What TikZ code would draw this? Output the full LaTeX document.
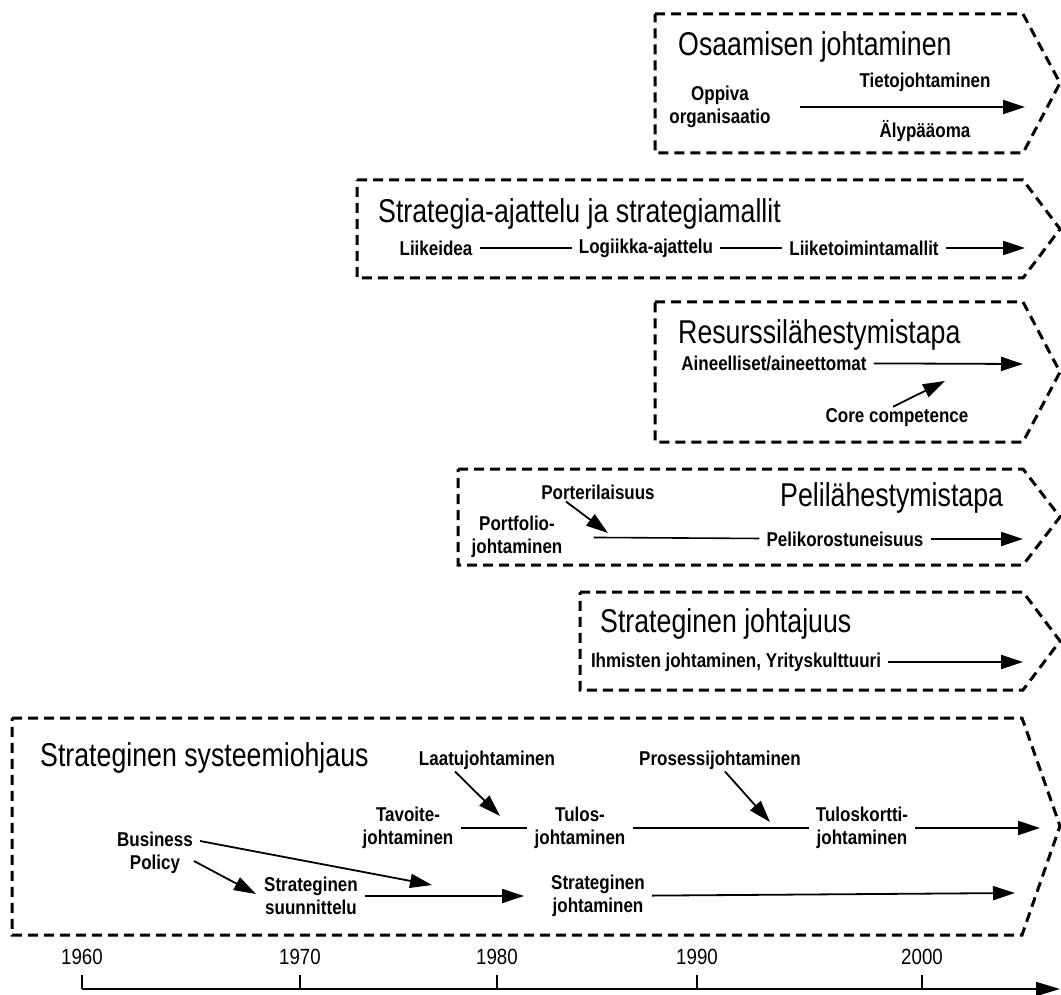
\documentclass[tikz,border=0pt]{standalone}
\usepackage{fontspec}
\setmainfont{Liberation Sans}
\newfontfamily\titlefont{Liberation Sans}[FakeStretch=0.81]
\newfontfamily\labelfont{Liberation Sans}[FakeStretch=0.85]
\usetikzlibrary{arrows.meta}

\tikzset{
  era/.style={draw, line width=3pt, dash pattern=on 10pt off 6pt, line join=miter},
  ttl/.style={font=\titlefont\fontsize{33}{36}\selectfont, anchor=west, inner sep=0pt},
  lbl/.style={font=\labelfont\bfseries\fontsize{20}{23}\selectfont, align=center,
              inner xsep=7pt, inner ysep=2pt},
  yearlbl/.style={font=\labelfont\fontsize{22}{24}\selectfont, inner sep=1pt},
  flow/.style={line width=1.8pt, -{Triangle[length=22pt,width=14pt]}},
  link/.style={line width=1.6pt},
  axisline/.style={line width=1.6pt},
}

\begin{document}
\begin{tikzpicture}[x=1pt,y=-1pt]
\useasboundingbox (0,0) rectangle (1061,995);

% --- period boxes (arrow-shaped, dashed) ---
\draw[era] (655,14)  -- (1023,14)  -- (1060,83)  -- (1023,153) -- (655,153) -- cycle;
\draw[era] (357,180) -- (1023,180) -- (1060,229) -- (1023,278) -- (357,278) -- cycle;
\draw[era] (655,302) -- (1023,302) -- (1060,372) -- (1023,442) -- (655,442) -- cycle;
\draw[era] (458,469) -- (1023,469) -- (1060,517) -- (1023,565) -- (458,565) -- cycle;
\draw[era] (580,592) -- (1023,592) -- (1060,641) -- (1023,690) -- (580,690) -- cycle;
\draw[era] (12,718)  -- (1022,718) -- (1060,826) -- (1022,935) -- (12,935)  -- cycle;

% --- Osaamisen johtaminen ---
\node[ttl] (t1) at (678,47) {Osaamisen johtaminen};
\node[lbl] (oppiva) at (720,107) {Oppiva\\organisaatio};
\node[lbl] (tieto) at (925,82) {Tietojohtaminen};
\node[lbl] (aly) at (925,131) {Älypääoma};
\coordinate (e1) at (1025,107);
\draw[flow, shorten <=22pt] (oppiva) -- (e1);

% --- Strategia-ajattelu ---
\node[ttl] (t2) at (378,214) {Strategia-ajattelu ja strategiamallit};
\node[lbl] (liike) at (436,248) {Liikeidea};
\node[lbl] (logi) at (646,248) {Logiikka-ajattelu};
\node[lbl] (ltm) at (864,248) {Liiketoimintamallit};
\coordinate (e2) at (1025,248);
\draw[link] (liike) -- (logi);
\draw[link] (logi) -- (ltm);
\draw[flow] (ltm) -- (e2);

% --- Resurssilähestymistapa ---
\node[ttl] (t3) at (678,335) {Resurssilähestymistapa};
\node[lbl] (aine) at (774,363) {Aineelliset/aineettomat};
\node[lbl] (core) at (897,418) {Core competence};
\coordinate (e3) at (1023,364);
\coordinate (c3) at (945,381);
\draw[flow] (aine) -- (e3);
\draw[flow] ([xshift=-4pt]core.north) -- (c3);

% --- Pelilähestymistapa ---
\node[ttl] (t4) at (780,498) {Pelilähestymistapa};
\node[lbl] (porter) at (598,492) {Porterilaisuus};
\node[lbl] (portf) at (517,537) {Portfolio-\\johtaminen};
\node[lbl] (peli) at (845,539) {Pelikorostuneisuus};
\coordinate (p4) at (608,533);
\coordinate (e4) at (1023,539);
\draw[flow] ([xshift=-32pt]porter.south) -- (p4);
\draw[link, shorten <=24pt] (portf) -- (peli);
\draw[flow] (peli) -- (e4);

% --- Strateginen johtajuus ---
\node[ttl] (t5) at (600,624) {Strateginen johtajuus};
\node[lbl] (ihm) at (736,662) {Ihmisten johtaminen, Yrityskulttuuri};
\coordinate (e5) at (1023,662);
\draw[flow] (ihm) -- (e5);

% --- Strateginen systeemiohjaus ---
\node[ttl] (t6) at (40,758) {Strateginen systeemiohjaus};
\node[lbl] (laatu) at (487,760) {Laatujohtaminen};
\node[lbl] (pros) at (720,760) {Prosessijohtaminen};
\node[lbl] (tav) at (408,828) {Tavoite-\\johtaminen};
\node[lbl] (tul) at (580,828) {Tulos-\\johtaminen};
\node[lbl] (tk) at (862,828) {Tuloskortti-\\johtaminen};
\node[lbl] (bp) at (155,853) {Business\\Policy};
\node[lbl] (ss) at (311,896) {Strateginen\\suunnittelu};
\node[lbl] (sj) at (598,896) {Strateginen\\johtaminen};
\coordinate (l6) at (500,816);
\coordinate (p6) at (770,822);
\coordinate (b6) at (432,885);
\coordinate (s6) at (256,894);
\coordinate (e6a) at (1040,828);
\coordinate (e6b) at (1015,893);
\draw[flow] ([xshift=-32pt]laatu.south) -- (l6);
\draw[flow] ([xshift=5pt]pros.south) -- (p6);
\draw[link] (tav) -- (tul);
\draw[link] (tul) -- (tk);
\draw[flow] (tk) -- (e6a);
\draw[flow] ([xshift=0pt,yshift=12pt]bp.east) -- (b6);
\draw[flow] ([xshift=-6pt,yshift=-8pt]bp.east) -- (s6);
\draw[flow, shorten >=20pt] (ss) -- (sj);
\draw[flow] (sj) -- (e6b);

% --- time axis ---
\coordinate (a0) at (82,989);
\coordinate (aend) at (1060,989);
\draw[axisline, -{Triangle[length=24pt,width=14pt]}] (a0) -- (aend);
\foreach \yr/\x in {1960/82,1970/300,1980/497,1990/697,2000/922}{
  \node[yearlbl] (y\yr) at (\x,957) {\yr};
  \draw[axisline] (\x,975) -- (\x,989);
}
\end{tikzpicture}
\end{document}
